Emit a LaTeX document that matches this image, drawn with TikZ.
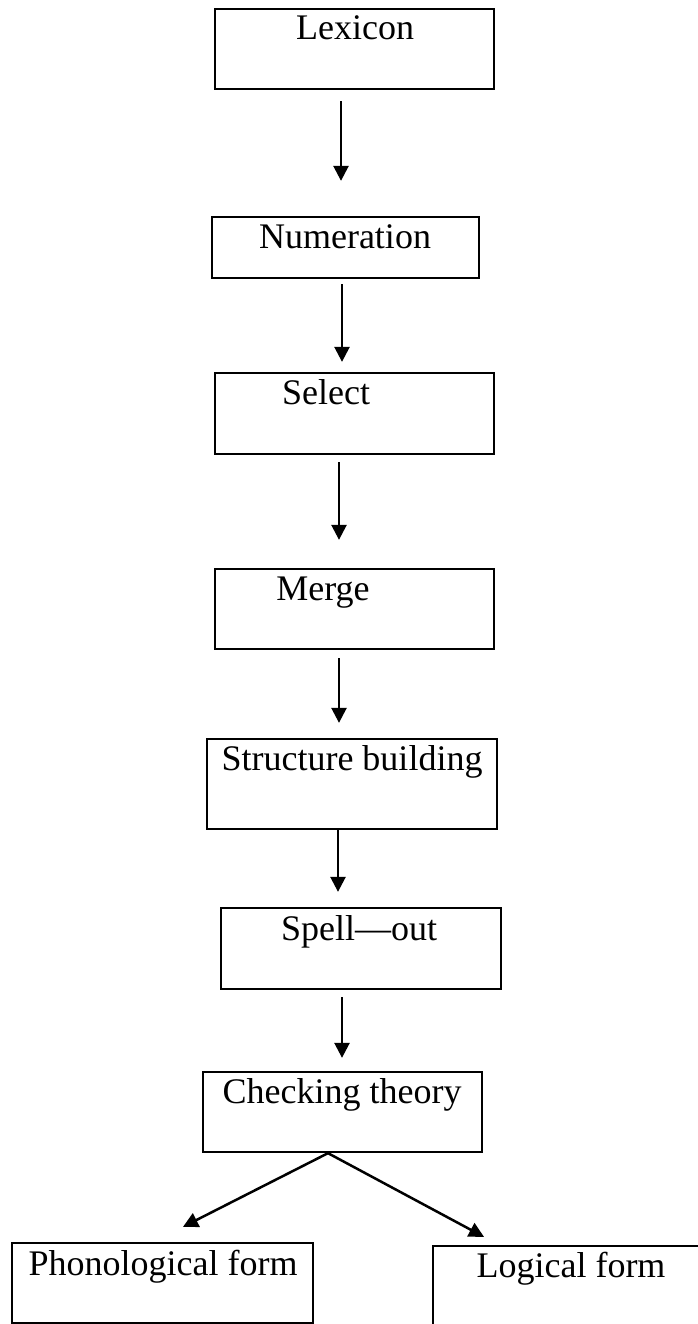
\documentclass[tikz,border=0pt]{standalone}
\usepackage{fontspec}
\setmainfont{Liberation Serif}
\usetikzlibrary{arrows.meta}
\begin{document}
\begin{tikzpicture}[x=1pt,y=-1pt,
  box/.style={draw, line width=2.3pt, inner sep=0pt},
  lbl/.style={inner sep=0pt, anchor=base, font=\fontsize{36}{43}\selectfont},
  arr/.style={line width=2.5pt, -{Triangle[width=15pt,length=15pt]}}]
\useasboundingbox (0,0) rectangle (698,1324);
\clip (0,0) rectangle (698,1324);
% boxes
\node[box, minimum width=279pt, minimum height=80pt] (lex) at (354.5,49) {};
\node[box, minimum width=267pt, minimum height=61pt] (num) at (345.5,247.5) {};
\node[box, minimum width=279pt, minimum height=81pt] (sel) at (354.5,413.5) {};
\node[box, minimum width=279pt, minimum height=80pt] (mer) at (354.5,609) {};
\node[box, minimum width=290pt, minimum height=90pt] (str) at (352,784) {};
\node[box, minimum width=280pt, minimum height=81pt] (spl) at (361,948.5) {};
\node[box, minimum width=279pt, minimum height=80pt] (chk) at (342.5,1112) {};
\node[box, minimum width=301pt, minimum height=80pt] (pf) at (162.5,1283) {};
\node[box, minimum width=276pt, minimum height=80pt] (lf) at (571,1286) {};
% labels
\node[lbl] (lexT) at (355,40) {Lexicon};
\node[lbl] (numT) at (345,248) {Numeration};
\node[lbl] (selT) at (326,404) {Select};
\node[lbl] (merT) at (323,600) {Merge};
\node[lbl] (strT) at (352,770) {Structure building};
\node[lbl] (splT) at (359,940) {Spell---out};
\node[lbl] (chkT) at (342,1103) {Checking theory};
\node[lbl] (pfT) at (163,1275) {Phonological form};
\node[lbl] (lfT) at (571,1277) {Logical form};
% connectors
\draw[arr, shorten <=11pt, shorten >=35pt] ([xshift=-13.5pt]lex.south) -- ([xshift=-13.5pt]lex.south |- num.north);
\draw[arr, shorten <=5pt, shorten >=10pt] ([xshift=-3.5pt]num.south) -- ([xshift=-3.5pt]num.south |- sel.north);
\draw[arr, shorten <=7pt, shorten >=28pt] ([xshift=-15.5pt]sel.south) -- ([xshift=-15.5pt]sel.south |- mer.north);
\draw[arr, shorten <=8pt, shorten >=15pt] ([xshift=-15.5pt]mer.south) -- ([xshift=-15.5pt]mer.south |- str.north);
\draw[arr, shorten >=15pt] ([xshift=-14pt]str.south) -- ([xshift=-14pt]str.south |- spl.north);
\draw[arr, shorten <=7pt, shorten >=13pt] ([xshift=-19pt]spl.south) -- ([xshift=-19pt]spl.south |- chk.north);
\draw[arr] ([xshift=-14.5pt]chk.south) -- ([xshift=20.5pt,yshift=15pt]pf.north);
\draw[arr] ([xshift=-14.5pt]chk.south) -- ([xshift=-87pt,yshift=8pt]lf.north);
\end{tikzpicture}
\end{document}
